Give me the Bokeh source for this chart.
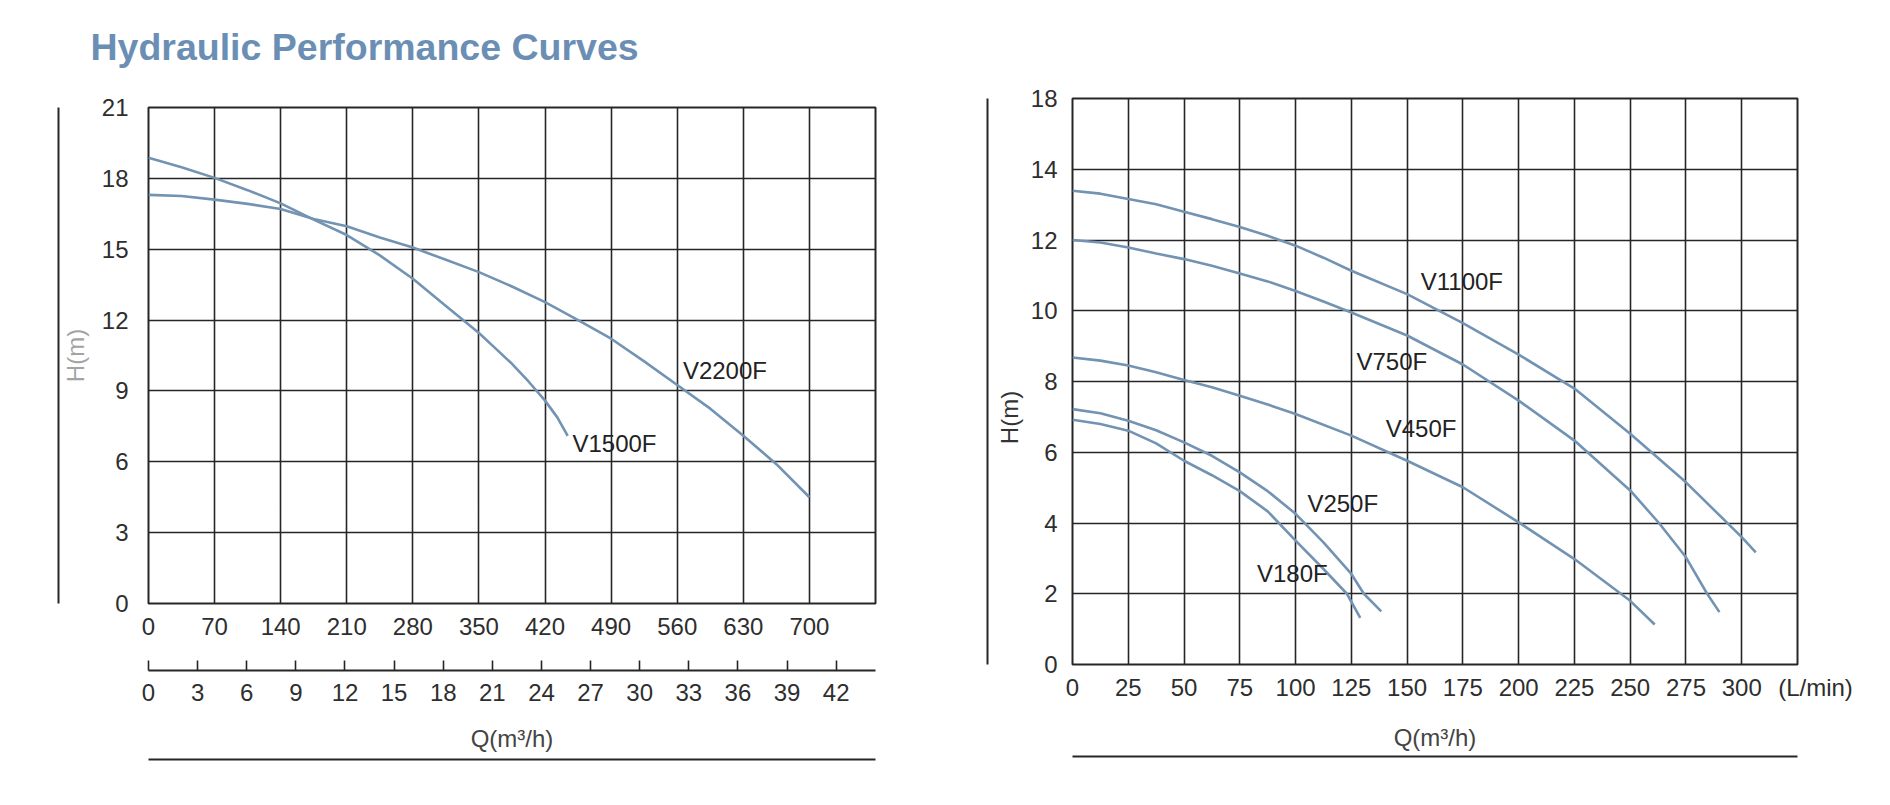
from bokeh.plotting import figure
from bokeh.models import ColumnDataSource, FixedTicker, LinearAxis, Range1d
from bokeh.layouts import row, column
from bokeh.embed import file_html
from bokeh.resources import INLINE
from bokeh.core.properties import value

TITLE = "Hydraulic Performance Curves"

# ---------------- left chart (L/min and m3/h vs head) ----------------
LEFT_Q_TICKS = [0, 70, 140, 210, 280, 350, 420, 490, 560, 630, 700]
LEFT_Q_GRID = [0, 70, 140, 210, 280, 350, 420, 490, 560, 630, 700, 770]
LEFT_Q_MAX = 770
LEFT_M3H_TICKS = [0, 3, 6, 9, 12, 15, 18, 21, 24, 27, 30, 33, 36, 39, 42]
LEFT_M3H_MAX = 44.4
LEFT_H_TICKS = [0, 3, 6, 9, 12, 15, 18, 21]
LEFT_H_MAX = 21

V1500F_Q = [0, 35, 70, 105, 140, 175, 210, 245, 280, 315, 350, 367.5, 385, 402.5, 420, 433, 444]
V1500F_H = [18.87, 18.47, 18.02, 17.5, 16.94, 16.25, 15.6, 14.74, 13.75, 12.6, 11.45, 10.8, 10.15, 9.4, 8.59, 7.88, 7.1]

V2200F_Q = [0, 35, 70, 105, 140, 175, 210, 245, 280, 315, 350, 385, 420, 455, 490, 525, 560, 595, 630, 665, 700]
V2200F_H = [17.3, 17.25, 17.1, 16.92, 16.7, 16.28, 15.97, 15.5, 15.07, 14.55, 14.03, 13.42, 12.76, 12.0, 11.21, 10.25, 9.25, 8.25, 7.1, 5.9, 4.5]

LEFT_LABELS = ["V2200F", "V1500F"]
LEFT_LABEL_Q = [566, 449]
LEFT_LABEL_H = [9.44, 6.33]

# ---------------- right chart (L/min vs head) ----------------
RIGHT_Q_TICKS = [0, 25, 50, 75, 100, 125, 150, 175, 200, 225, 250, 275, 300, 325]
RIGHT_Q_LABELS = ["0", "25", "50", "75", "100", "125", "150", "175", "200",
                  "225", "250", "275", "300", "\u2003\u2002(L/min)"]
RIGHT_Q_MAX = 325
RIGHT_H_TICKS = [0, 2, 4, 6, 8, 10, 12, 14, 16]
RIGHT_H_LABELS = ["0", "2", "4", "6", "8", "10", "12", "14", "18"]
RIGHT_H_MAX = 16

V1100F_Q = [0, 12.5, 25, 37.5, 50, 62.5, 75, 87.5, 100, 112.5, 125, 150, 175, 200, 225, 250, 275, 300, 306.3]
V1100F_H = [13.39, 13.31, 13.16, 13.01, 12.8, 12.59, 12.37, 12.12, 11.84, 11.5, 11.13, 10.47, 9.65, 8.76, 7.8, 6.52, 5.15, 3.6, 3.17]

V750F_Q = [0, 12.5, 25, 37.5, 50, 62.5, 75, 87.5, 100, 112.5, 125, 150, 175, 200, 225, 250, 262.9, 275, 284.5, 290]
V750F_H = [12.0, 11.93, 11.79, 11.62, 11.46, 11.27, 11.05, 10.83, 10.56, 10.26, 9.95, 9.3, 8.48, 7.46, 6.33, 4.92, 4.0, 3.03, 2.0, 1.48]

V450F_Q = [0, 12.5, 25, 37.5, 50, 62.5, 75, 87.5, 100, 125, 150, 175, 200, 225, 250, 261]
V450F_H = [8.68, 8.59, 8.45, 8.26, 8.04, 7.84, 7.6, 7.35, 7.08, 6.47, 5.76, 5.01, 4.02, 2.98, 1.8, 1.13]

V250F_Q = [0, 12.5, 25, 37.5, 50, 62.5, 75, 87.5, 100, 112.5, 125, 130.6, 138.4]
V250F_H = [7.22, 7.1, 6.89, 6.62, 6.28, 5.9, 5.43, 4.9, 4.26, 3.45, 2.56, 2.0, 1.5]

V180F_Q = [0, 12.5, 25, 37.5, 50, 62.5, 75, 87.5, 100, 112.5, 123, 129]
V180F_H = [6.92, 6.8, 6.61, 6.25, 5.76, 5.35, 4.9, 4.33, 3.5, 2.7, 2.0, 1.32]

RIGHT_LABELS = ["V1100F", "V750F", "V450F", "V250F", "V180F"]
RIGHT_LABEL_Q = [156.1, 127.3, 140.4, 105.3, 82.7]
RIGHT_LABEL_H = [10.55, 8.29, 6.38, 4.27, 2.28]

FONT = "Liberation Sans"
TEXT = "#2e2e2e"
GRID = "#262626"
CURVE = "#7393b3"
TITLE_COLOR = "#6b8fb4"

PAGE_W = 1890
TITLE_H = 70
PLOT_H = 730


def base_figure(width, height, xr, yr, bl, br, bt, bb):
    p = figure(width=width, height=height, x_range=xr, y_range=yr,
               output_backend="svg", toolbar_location=None,
               min_border_left=bl, min_border_right=br,
               min_border_top=bt, min_border_bottom=bb,
               frame_align=False)
    p.background_fill_color = "white"
    p.border_fill_color = "white"
    p.outline_line_color = GRID
    p.outline_line_width = 2
    p.grid.grid_line_color = GRID
    p.grid.grid_line_width = 1.6
    return p


def style_axis(ax, size="24px", color=TEXT):
    ax.axis_line_color = None
    ax.major_tick_line_color = None
    ax.minor_tick_line_color = None
    ax.major_tick_in = 0
    ax.major_tick_out = 0
    ax.minor_tick_in = 0
    ax.minor_tick_out = 0
    ax.major_label_text_font = FONT
    ax.major_label_text_font_size = size
    ax.major_label_text_color = color
    ax.axis_label_text_font = FONT
    ax.axis_label_text_font_size = size
    ax.axis_label_text_font_style = "normal"


def spacer_axis(p, side, gap, tick_at):
    # invisible axis that only reserves `gap` pixels in a side panel
    ax = LinearAxis(ticker=FixedTicker(ticks=[tick_at]))
    style_axis(ax)
    ax.major_tick_line_color = "white"
    ax.major_tick_out = gap
    ax.major_label_overrides = {tick_at: ""}
    ax.major_label_text_font_size = "1px"
    ax.major_label_standoff = 0
    p.add_layout(ax, side)
    return ax


def line_axis(p, side):
    ax = LinearAxis(ticker=FixedTicker(ticks=[]))
    style_axis(ax)
    ax.axis_line_color = GRID
    ax.axis_line_width = 2
    p.add_layout(ax, side)
    return ax


def add_curves(p, curves, names, lq, lh):
    for q, h in curves:
        src = ColumnDataSource(dict(q=q, h=h))
        p.line("q", "h", source=src, line_color=CURVE, line_width=2.6)
    lab = ColumnDataSource(dict(q=lq, h=lh, t=names))
    p.text("q", "h", text="t", source=lab, text_font=value(FONT),
           text_font_size=value("24px"), text_color="#222222",
           text_baseline="alphabetic", text_align="left", y_offset=-10)


# ---------------- title strip ----------------
tf = figure(width=PAGE_W, height=TITLE_H, x_range=Range1d(0, PAGE_W), y_range=Range1d(0, TITLE_H),
            output_backend="svg", toolbar_location=None, min_border=0,
            x_axis_location=None, y_axis_location=None, frame_align=False)
tf.grid.visible = False
tf.outline_line_color = None
tf.background_fill_color = "white"
tf.border_fill_color = "white"
tsrc = ColumnDataSource(dict(x=[90], y=[TITLE_H - 61], t=[TITLE]))
tf.text("x", "y", text="t", source=tsrc, text_font=value(FONT), text_font_style="bold",
        text_font_size=value("37.5px"), text_color=TITLE_COLOR,
        text_baseline="alphabetic", text_align="left", y_offset=-15)

# ---------------- left figure ----------------
p1 = base_figure(960, PLOT_H, Range1d(0, LEFT_Q_MAX), Range1d(0, LEFT_H_MAX),
                 148, 85, 107 - TITLE_H, PLOT_H - (107 - TITLE_H) - 496)
p1.extra_x_ranges = {"m3h": Range1d(0, LEFT_M3H_MAX)}
p1.xgrid.ticker = FixedTicker(ticks=LEFT_Q_GRID)
p1.ygrid.ticker = FixedTicker(ticks=LEFT_H_TICKS)

xa = p1.xaxis[0]
style_axis(xa)
xa.ticker = FixedTicker(ticks=LEFT_Q_TICKS)
xa.major_label_standoff = 14
spacer_axis(p1, "below", 33, LEFT_Q_MAX)

m3 = LinearAxis(x_range_name="m3h", ticker=FixedTicker(ticks=LEFT_M3H_TICKS))
style_axis(m3)
m3.axis_line_color = GRID
m3.axis_line_width = 2
m3.major_tick_line_color = GRID
m3.major_tick_line_width = 1.6
m3.major_tick_in = 10
m3.major_tick_out = 0
m3.major_label_standoff = 13
m3.axis_label = "Q(m\u00b3/h)"
m3.axis_label_standoff = 21
p1.add_layout(m3, "below")
spacer_axis(p1, "below", 5, LEFT_Q_MAX)
line_axis(p1, "below")

ya = p1.yaxis[0]
style_axis(ya)
ya.ticker = FixedTicker(ticks=LEFT_H_TICKS)
ya.major_label_standoff = 20
ya.axis_label = "H(m)"
ya.axis_label_text_color = "#a3a3a3"
ya.axis_label_standoff = 10
line_axis(p1, "left")

add_curves(p1, [(V1500F_Q, V1500F_H), (V2200F_Q, V2200F_H)], LEFT_LABELS, LEFT_LABEL_Q, LEFT_LABEL_H)

# ---------------- right figure ----------------
p2 = base_figure(930, PLOT_H, Range1d(0, RIGHT_Q_MAX), Range1d(0, RIGHT_H_MAX),
                 112, 93, 98 - TITLE_H, PLOT_H - (98 - TITLE_H) - 566)
p2.xgrid.ticker = FixedTicker(ticks=RIGHT_Q_TICKS)
p2.ygrid.ticker = FixedTicker(ticks=RIGHT_H_TICKS)

xb = p2.xaxis[0]
style_axis(xb)
xb.ticker = FixedTicker(ticks=RIGHT_Q_TICKS)
xb.major_label_overrides = {t: s for t, s in zip(RIGHT_Q_TICKS, RIGHT_Q_LABELS)}
xb.major_label_standoff = 9
xb.axis_label = "Q(m\u00b3/h)"
xb.axis_label_standoff = 20
spacer_axis(p2, "below", 3, RIGHT_Q_MAX)
line_axis(p2, "below")

yb = p2.yaxis[0]
style_axis(yb)
yb.ticker = FixedTicker(ticks=RIGHT_H_TICKS)
yb.major_label_overrides = {t: s for t, s in zip(RIGHT_H_TICKS, RIGHT_H_LABELS)}
yb.major_label_standoff = 15
yb.axis_label = "H(m)\u2003\u2003\u2003"
yb.axis_label_text_color = "#333333"
yb.axis_label_standoff = 5
spacer_axis(p2, "left", 5, RIGHT_H_MAX)
line_axis(p2, "left")

add_curves(p2, [(V1100F_Q, V1100F_H), (V750F_Q, V750F_H), (V450F_Q, V450F_H),
                (V250F_Q, V250F_H), (V180F_Q, V180F_H)],
           RIGHT_LABELS, RIGHT_LABEL_Q, RIGHT_LABEL_H)

layout = column(tf, row(p1, p2))
open("out.html", "w").write(file_html(layout, INLINE))
